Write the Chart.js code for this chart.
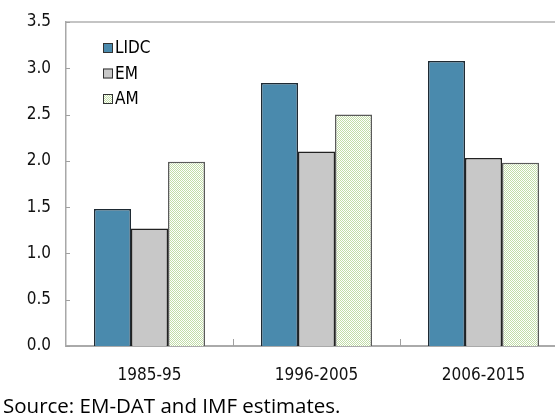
<!DOCTYPE html>
<html>
<head>
<meta charset="utf-8">
<script src="https://cdn.jsdelivr.net/npm/chart.js@4/dist/chart.umd.min.js"></script>
<style>
  html, body { margin: 0; padding: 0; background: #fff; width: 555px; height: 418px; overflow: hidden; }
  #wrap { position: absolute; left: 0; top: 0; width: 580px; height: 418px; }
  #source { position: absolute; left: 3px; top: 391px; font: 20.5px "Open Sans", sans-serif; color: #000; white-space: nowrap; }
</style>
</head>
<body>
<div id="wrap"><canvas id="c" width="580" height="418"></canvas></div>
<div id="source">Source: EM-DAT and IMF estimates.</div>
<script>
const periods = ['1985-95', '1996-2005', '2006-2015'];
const lidc = [1.48, 2.84, 3.08];
const em = [1.27, 2.10, 2.03];
const am = [1.99, 2.50, 1.98];
const seriesNames = ['LIDC', 'EM', 'AM'];
const yTicks = [0, 0.5, 1, 1.5, 2, 2.5, 3, 3.5];

const FONT = '"DejaVu Sans Condensed", "DejaVu Sans", sans-serif';

const ctx0 = document.getElementById('c').getContext('2d');

// light green checker fill for the AM series
const amFill = ctx0.createPattern((() => {
  const p = document.createElement('canvas');
  p.width = 2; p.height = 2;
  const g = p.getContext('2d');
  g.fillStyle = '#ffffff'; g.fillRect(0, 0, 2, 2);
  g.fillStyle = '#c2dda8';
  g.fillRect(0, 0, 1, 1); g.fillRect(1, 1, 1, 1);
  return p;
})(), 'repeat');

// frame line along the top, inward tick marks, and the legend inside the plot
const decor = {
  id: 'decor',
  afterDatasetsDraw(chart) {
    const { ctx, chartArea: a, scales } = chart;
    ctx.save();
    ctx.strokeStyle = '#b0b0b0';
    ctx.lineWidth = 1.5;
    ctx.beginPath();
    ctx.moveTo(a.left, a.top); ctx.lineTo(a.right, a.top);
    ctx.stroke();
    // y ticks (pointing into the plot)
    ctx.lineWidth = 1;
    ctx.strokeStyle = '#a0a0a0';
    scales.y.ticks.forEach(t => {
      const y = Math.round(scales.y.getPixelForValue(t.value)) + 0.5;
      ctx.beginPath(); ctx.moveTo(a.left, y); ctx.lineTo(a.left + 4, y); ctx.stroke();
    });
    // x ticks at category boundaries
    for (let i = 1; i < periods.length; i++) {
      const x = Math.round((scales.x.getPixelForValue(i - 1) + scales.x.getPixelForValue(i)) / 2) + 0.5;
      ctx.beginPath(); ctx.moveTo(x, a.bottom); ctx.lineTo(x, a.bottom - 7); ctx.stroke();
    }
    // legend
    ctx.font = '17px ' + FONT;
    ctx.textBaseline = 'middle';
    chart.data.datasets.forEach((ds, i) => {
      const cy = a.top + 26 + i * 25.5;
      const x0 = a.left + 37;
      ctx.fillStyle = ds.backgroundColor;
      ctx.fillRect(x0, cy - 5, 10, 10);
      ctx.strokeStyle = '#333';
      ctx.lineWidth = 1;
      ctx.strokeRect(x0 + 0.5, cy - 4.5, 9, 9);
      ctx.fillStyle = '#000';
      ctx.fillText(ds.label, x0 + 12, cy + 1);
    });
    ctx.restore();
  }
};

new Chart(ctx0, {
  type: 'bar',
  data: {
    labels: periods,
    datasets: [
      { label: seriesNames[0], data: lidc, backgroundColor: '#4a8aad', borderColor: '#1e2a33', borderWidth: 1.5 },
      { label: seriesNames[1], data: em, backgroundColor: '#c8c8c8', borderColor: '#222222', borderWidth: 1.5 },
      { label: seriesNames[2], data: am, backgroundColor: amFill, borderColor: '#5a5a5a', borderWidth: 1.5 }
    ]
  },
  options: {
    responsive: false,
    animation: false,
    devicePixelRatio: 1,
    categoryPercentage: 0.665,
    barPercentage: 1,
    layout: { padding: { top: 22, right: 13, left: 0, bottom: 0 } },
    plugins: { legend: { display: false }, tooltip: { enabled: false } },
    scales: {
      x: {
        grid: { display: false },
        border: { display: true, color: '#aaaaaa', width: 2 },
        ticks: { color: '#111', font: { family: FONT, size: 17 }, padding: 11 },
        afterFit(s) { s.height = 72; }
      },
      y: {
        min: 0, max: 3.5,
        afterBuildTicks(s) { s.ticks = yTicks.map(v => ({ value: v })); },
        grid: { display: false },
        border: { display: true, color: '#a8a8a8', width: 1.5 },
        ticks: { color: '#111', font: { family: FONT, size: 17 }, padding: 7,
                 callback: v => Number(v).toFixed(1) },
        afterFit(s) { s.width = 66; s.paddingTop = 0; s.paddingBottom = 0; }
      }
    }
  },
  plugins: [decor]
});
</script>
</body>
</html>
